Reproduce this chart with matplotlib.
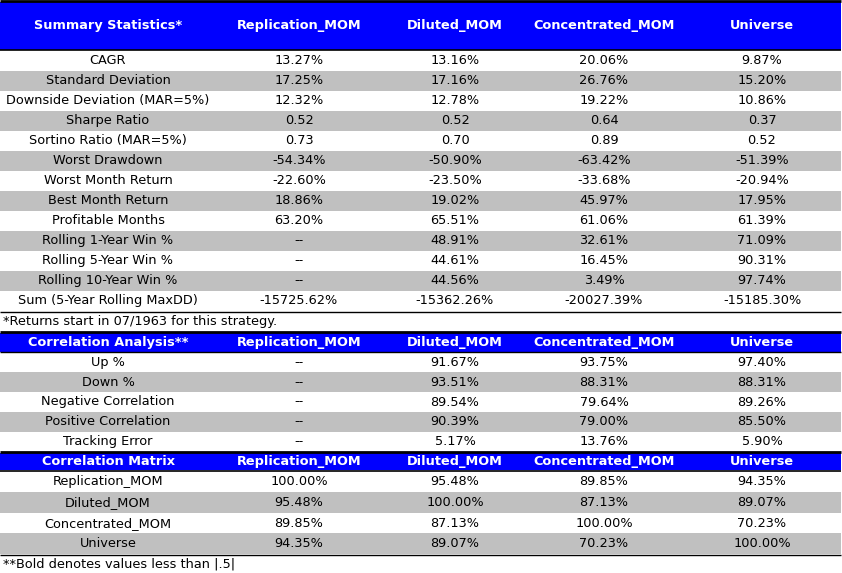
import matplotlib.pyplot as plt

# ---- data ----
columns = ["Replication_MOM", "Diluted_MOM", "Concentrated_MOM", "Universe"]

summary_labels = ["CAGR", "Standard Deviation", "Downside Deviation (MAR=5%)",
                  "Sharpe Ratio", "Sortino Ratio (MAR=5%)", "Worst Drawdown",
                  "Worst Month Return", "Best Month Return", "Profitable Months",
                  "Rolling 1-Year Win %", "Rolling 5-Year Win %",
                  "Rolling 10-Year Win %", "Sum (5-Year Rolling MaxDD)"]
replication = ["13.27%", "17.25%", "12.32%", "0.52", "0.73", "-54.34%", "-22.60%",
               "18.86%", "63.20%", "--", "--", "--", "-15725.62%"]
diluted = ["13.16%", "17.16%", "12.78%", "0.52", "0.70", "-50.90%", "-23.50%",
           "19.02%", "65.51%", "48.91%", "44.61%", "44.56%", "-15362.26%"]
concentrated = ["20.06%", "26.76%", "19.22%", "0.64", "0.89", "-63.42%", "-33.68%",
                "45.97%", "61.06%", "32.61%", "16.45%", "3.49%", "-20027.39%"]
universe = ["9.87%", "15.20%", "10.86%", "0.37", "0.52", "-51.39%", "-20.94%",
            "17.95%", "61.39%", "71.09%", "90.31%", "97.74%", "-15185.30%"]

corr_labels = ["Up %", "Down %", "Negative Correlation", "Positive Correlation",
               "Tracking Error"]
corr_replication = ["--", "--", "--", "--", "--"]
corr_diluted = ["91.67%", "93.51%", "89.54%", "90.39%", "5.17%"]
corr_concentrated = ["93.75%", "88.31%", "79.64%", "79.00%", "13.76%"]
corr_universe = ["97.40%", "88.31%", "89.26%", "85.50%", "5.90%"]

matrix_labels = ["Replication_MOM", "Diluted_MOM", "Concentrated_MOM", "Universe"]
matrix_values = [["100.00%", "95.48%", "89.85%", "94.35%"],
                 ["95.48%", "100.00%", "87.13%", "89.07%"],
                 ["89.85%", "87.13%", "100.00%", "70.23%"],
                 ["94.35%", "89.07%", "70.23%", "100.00%"]]

note1 = "*Returns start in 07/1963 for this strategy."
note2 = "**Bold denotes values less than |.5|"

# ---- layout (pixel space) ----
W, H = 842, 573
col_x = [108, 299, 455, 604, 762]
table_w = 841
blue = "#0000FF"
gray = "#C0C0C0"
fs = 9.3
font = ["Verdana", "DejaVu Sans"]

fig = plt.figure(figsize=(W / 100, H / 100), dpi=100)
ax = fig.add_axes([0, 0, 1, 1])
ax.set_xlim(0, W)
ax.set_ylim(H, 0)
ax.axis("off")


def band(y0, y1, color):
    ax.barh((y0 + y1) / 2, table_w, height=y1 - y0, left=0, color=color, linewidth=0)


def hline(y, lw):
    ax.plot([0, table_w], [y, y], color="black", linewidth=lw, solid_capstyle="butt")


def header(y0, y1, title):
    band(y0, y1, blue)
    yc = (y0 + y1) / 2
    for x, t in zip(col_x, [title] + columns):
        ax.text(x, yc, t, ha="center", va="center", color="white",
                fontsize=fs, fontweight="bold", family=font)


def body(y0, y1, labels, cols):
    n = len(labels)
    h = (y1 - y0) / n
    for i, lab in enumerate(labels):
        top = y0 + i * h
        if i % 2 == 1:
            band(top, top + h, gray)
        yc = top + h / 2
        row = [lab] + [c[i] for c in cols]
        for x, t in zip(col_x, row):
            ax.text(x, yc, t, ha="center", va="center", color="black",
                    fontsize=fs, family=font)


# section 1
header(2, 49.5, "Summary Statistics*")
body(50.5, 311, summary_labels, [replication, diluted, concentrated, universe])
ax.text(3, 321.5, note1, ha="left", va="center", fontsize=fs, family=font)

# section 2
header(333, 351.5, "Correlation Analysis**")
body(352.5, 451.5, corr_labels,
     [corr_replication, corr_diluted, corr_concentrated, corr_universe])

# section 3
header(453.3, 470.5, "Correlation Matrix")
body(471.5, 554, matrix_labels, [list(c) for c in zip(*matrix_values)])
ax.text(3, 563.5, note2, ha="left", va="center", fontsize=fs, family=font)

# rules
hline(1, 2)
hline(50, 1.2)
hline(311.5, 1)
hline(332, 2)
hline(352, 1)
hline(452.3, 2)
hline(471, 1.2)
hline(554.5, 1)

fig.savefig("out.png", dpi=100)
